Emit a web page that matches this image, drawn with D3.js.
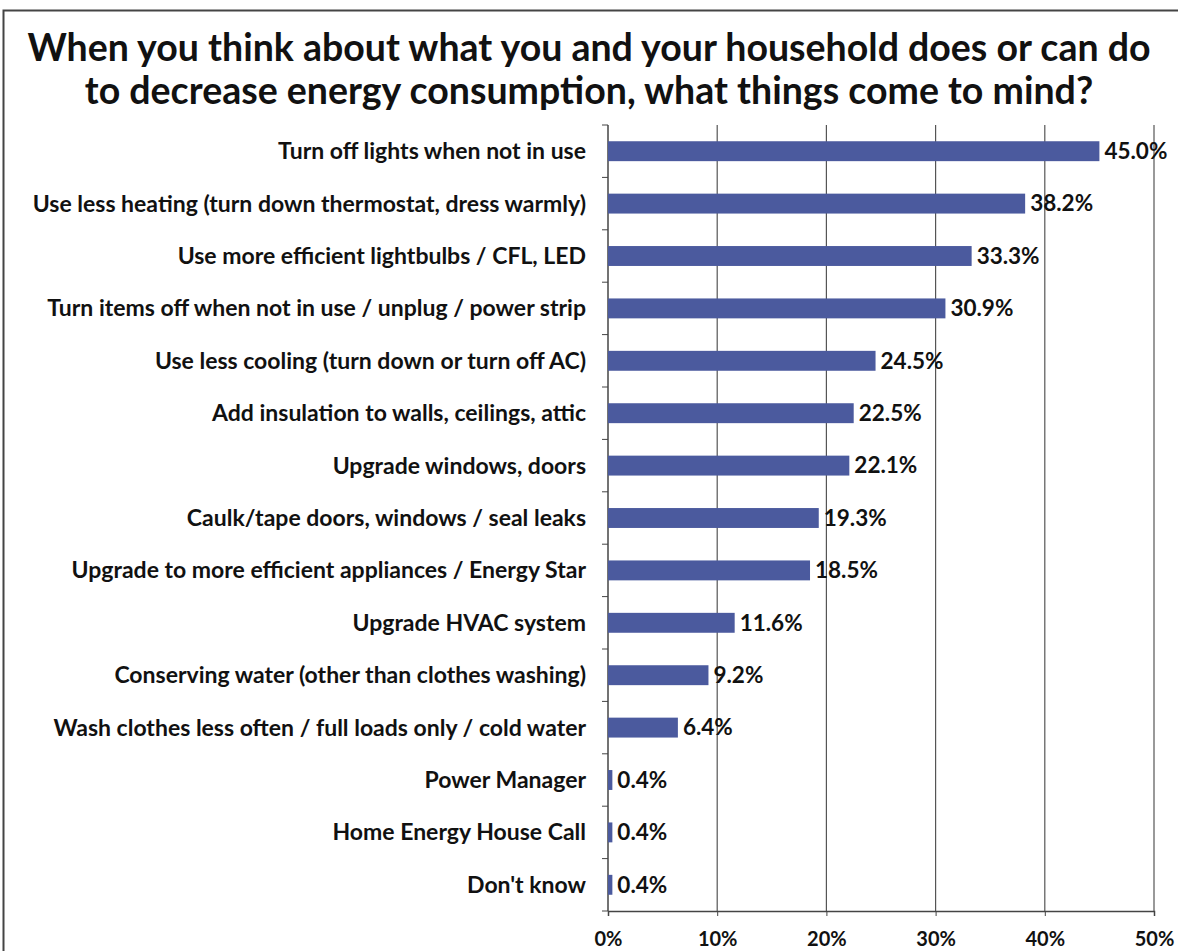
<!DOCTYPE html>
<html>
<head>
<meta charset="utf-8">
<script src="https://cdn.jsdelivr.net/npm/d3@7"></script>
<style>
  body { margin: 0; background: #fff; }
  svg text { font-family: Lato, "Open Sans", sans-serif; font-weight: bold; fill: #111; }
</style>
</head>
<body>
<svg id="chart" width="1178" height="951"></svg>
<script>
// chart data
const categories = [
    'Turn off lights when not in use',
    'Use less heating (turn down thermostat, dress warmly)',
    'Use more efficient lightbulbs / CFL, LED',
    'Turn items off when not in use / unplug / power strip',
    'Use less cooling (turn down or turn off AC)',
    'Add insulation to walls, ceilings, attic',
    'Upgrade windows, doors',
    'Caulk/tape doors, windows / seal leaks',
    'Upgrade to more efficient appliances / Energy Star',
    'Upgrade HVAC system',
    'Conserving water (other than clothes washing)',
    'Wash clothes less often / full loads only / cold water',
    'Power Manager',
    'Home Energy House Call',
    "Don't know"
];
const values = [45.0, 38.2, 33.3, 30.9, 24.5, 22.5, 22.1, 19.3, 18.5, 11.6, 9.2, 6.4, 0.4, 0.4, 0.4];
const xTicks = [0, 10, 20, 30, 40, 50];
const titleLines = [
    'When you think about what you and your household does or can do',
    'to decrease energy consumption, what things come to mind?'
];

const svg = d3.select('#chart');
const plot = { left: 608, right: 1154, top: 125, bottom: 911 };

// outer frame (right and bottom edges fall outside the picture)
svg.append('rect')
    .attr('x', 3.5).attr('y', 10.5)
    .attr('width', 1250).attr('height', 1000)
    .attr('fill', 'none')
    .attr('stroke', '#444')
    .attr('stroke-width', 2);

svg.selectAll('text.title')
    .data(titleLines)
    .enter()
    .append('text')
    .classed('title', true)
    .attr('x', 589)
    .attr('y', (d, i) => 61 + i * 43)
    .attr('text-anchor', 'middle')
    .attr('font-size', 37.5)
    .text(d => d);

const x = d3.scaleLinear().domain([0, 50]).range([plot.left, plot.right]);
const y = d3.scaleBand().domain(categories).range([plot.top, plot.bottom]).paddingInner(0.62).paddingOuter(0.31);

// vertical gridlines
svg.append('g')
    .selectAll('line')
    .data(xTicks.slice(1))
    .enter()
    .append('line')
    .attr('x1', d => x(d)).attr('x2', d => x(d))
    .attr('y1', plot.top).attr('y2', plot.bottom)
    .attr('stroke', '#555')
    .attr('stroke-width', 1.2);

// bottom axis
const xAxis = svg.append('g')
    .attr('transform', `translate(0,${plot.bottom})`)
    .call(d3.axisBottom(x).tickValues(xTicks).tickFormat(d => d + '%').tickSize(5).tickPadding(16));
xAxis.select('.domain').attr('stroke', '#444').attr('stroke-width', 1.5);
xAxis.selectAll('.tick line').attr('stroke', '#444');
xAxis.selectAll('.tick text')
    .attr('font-size', 20)
    .attr('font-family', 'Lato, sans-serif')
    .attr('font-weight', 'bold')
    .attr('fill', '#111');

// left axis line with tick marks between categories
const step = y.step();
svg.append('line')
    .attr('x1', plot.left).attr('x2', plot.left)
    .attr('y1', plot.top).attr('y2', plot.bottom)
    .attr('stroke', '#444')
    .attr('stroke-width', 1.5);
svg.append('g')
    .selectAll('line')
    .data(d3.range(categories.length + 1))
    .enter()
    .append('line')
    .attr('x1', plot.left - 6).attr('x2', plot.left)
    .attr('y1', i => plot.top + i * step)
    .attr('y2', i => plot.top + i * step)
    .attr('stroke', '#444');

// bars
svg.append('g')
    .selectAll('rect')
    .data(values)
    .enter()
    .append('rect')
    .attr('x', x(0))
    .attr('y', (d, i) => y(categories[i]))
    .attr('width', d => x(d) - x(0))
    .attr('height', y.bandwidth())
    .attr('fill', '#4b5a9e');

// value labels
svg.append('g')
    .selectAll('text')
    .data(values)
    .enter()
    .append('text')
    .attr('x', d => x(d) + 5)
    .attr('y', (d, i) => y(categories[i]) + y.bandwidth() / 2)
    .attr('dy', '0.35em')
    .attr('font-size', 22.5)
    .text(d => d.toFixed(1) + '%');

// category labels
svg.append('g')
    .selectAll('text')
    .data(categories)
    .enter()
    .append('text')
    .attr('x', 586)
    .attr('y', d => y(d) + y.bandwidth() / 2)
    .attr('dy', '0.35em')
    .attr('text-anchor', 'end')
    .attr('font-size', 23)
    .text(d => d);
</script>
</body>
</html>
